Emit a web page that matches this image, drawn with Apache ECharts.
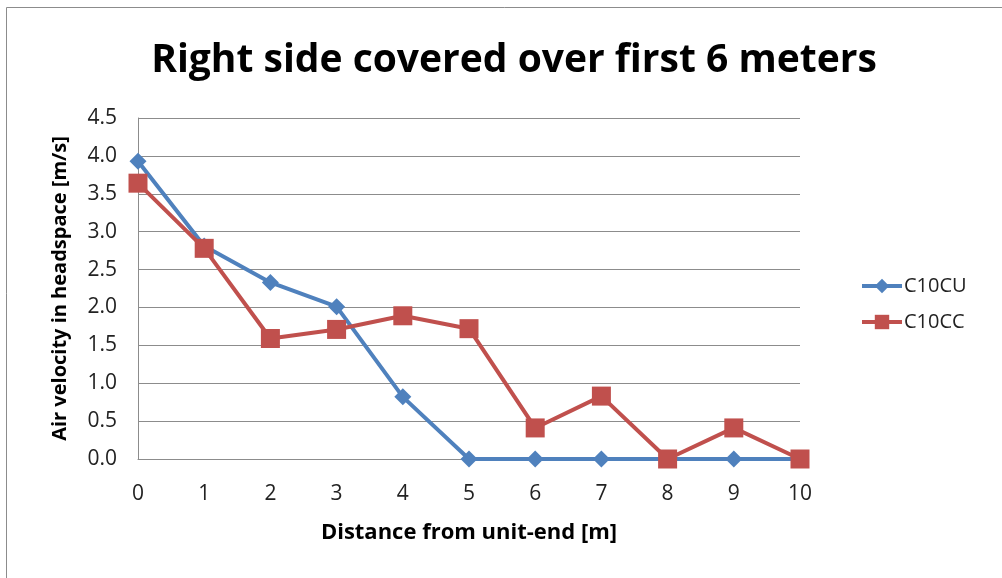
<!DOCTYPE html>
<html>
<head>
<meta charset="utf-8">
<script src="https://cdn.jsdelivr.net/npm/echarts@6/dist/echarts.min.js"></script>
<style>
  html, body { margin: 0; padding: 0; background: #ffffff; }
  #chart { width: 1002px; height: 578px; }
</style>
</head>
<body>
<div id="chart"></div>
<script>
// Distance from unit-end, metres
const distances = ['0', '1', '2', '3', '4', '5', '6', '7', '8', '9', '10'];
// Air velocity in headspace, m/s
const c10cu = [3.93, 2.81, 2.33, 2.01, 0.82, 0, 0, 0, 0, 0, 0];
const c10cc = [3.64, 2.78, 1.59, 1.71, 1.89, 1.72, 0.41, 0.83, 0, 0.41, 0];
const yTicks = { min: 0, max: 4.5, interval: 0.5 };

const FONT = '"Open Sans", "Noto Sans", sans-serif';
const chart = echarts.init(document.getElementById('chart'), null, { renderer: 'canvas' });

chart.setOption({
  backgroundColor: '#ffffff',
  animation: false,
  title: {
    text: 'Right side covered over first 6 meters',
    left: 509,
    textAlign: 'center',
    top: 36,
    textStyle: { fontFamily: FONT, fontWeight: 'bold', fontSize: 39, color: '#000000' }
  },
  graphic: [{
    type: 'rect',
    shape: { x: 6.5, y: 7.5, width: 1100, height: 700 },
    style: { fill: null, stroke: '#8c8c8c', lineWidth: 1 },
    silent: true
  }],
  legend: {
    orient: 'vertical',
    left: 855,
    top: 271,
    itemGap: 16,
    itemWidth: 40,
    itemHeight: 18,
    lineStyle: { width: 4 },
    textStyle: { fontFamily: FONT, fontSize: 20, color: '#222222', padding: [0, 0, 0, -3] },
    data: ['C10CU', 'C10CC']
  },
  grid: { left: 138, right: 202, top: 118, bottom: 119 },
  xAxis: {
    type: 'category',
    boundaryGap: false,
    data: distances,
    name: 'Distance from unit-end [m]',
    nameLocation: 'middle',
    nameGap: 63,
    nameTextStyle: { fontFamily: FONT, fontWeight: 'bold', fontSize: 22, color: '#000000' },
    axisLine: { lineStyle: { color: '#8c8c8c', width: 1 } },
    axisTick: { show: false },
    axisLabel: { fontFamily: FONT, fontSize: 21, color: '#222222', margin: 25 },
    splitLine: { show: false }
  },
  yAxis: {
    type: 'value',
    min: yTicks.min,
    max: yTicks.max,
    interval: yTicks.interval,
    name: 'Air velocity in headspace [m/s]',
    nameLocation: 'middle',
    nameGap: 68,
    nameTextStyle: { fontFamily: FONT, fontWeight: 'bold', fontSize: 20, color: '#000000' },
    axisLine: { show: true, lineStyle: { color: '#8c8c8c', width: 1 } },
    axisTick: { show: false },
    axisLabel: {
      fontFamily: FONT, fontSize: 21, color: '#222222', margin: 21,
      formatter: v => v.toFixed(1)
    },
    splitLine: { show: true, lineStyle: { color: '#8c8c8c', width: 1 } }
  },
  series: [
    {
      name: 'C10CU',
      type: 'line',
      data: c10cu,
      symbol: 'diamond',
      symbolSize: 17,
      lineStyle: { color: '#4f81bd', width: 4 },
      itemStyle: { color: '#4f81bd' },
      z: 3
    },
    {
      name: 'C10CC',
      type: 'line',
      data: c10cc,
      symbol: 'rect',
      symbolSize: 19,
      lineStyle: { color: '#c0504d', width: 4 },
      itemStyle: { color: '#c0504d' },
      z: 4
    }
  ]
});
</script>
</body>
</html>
